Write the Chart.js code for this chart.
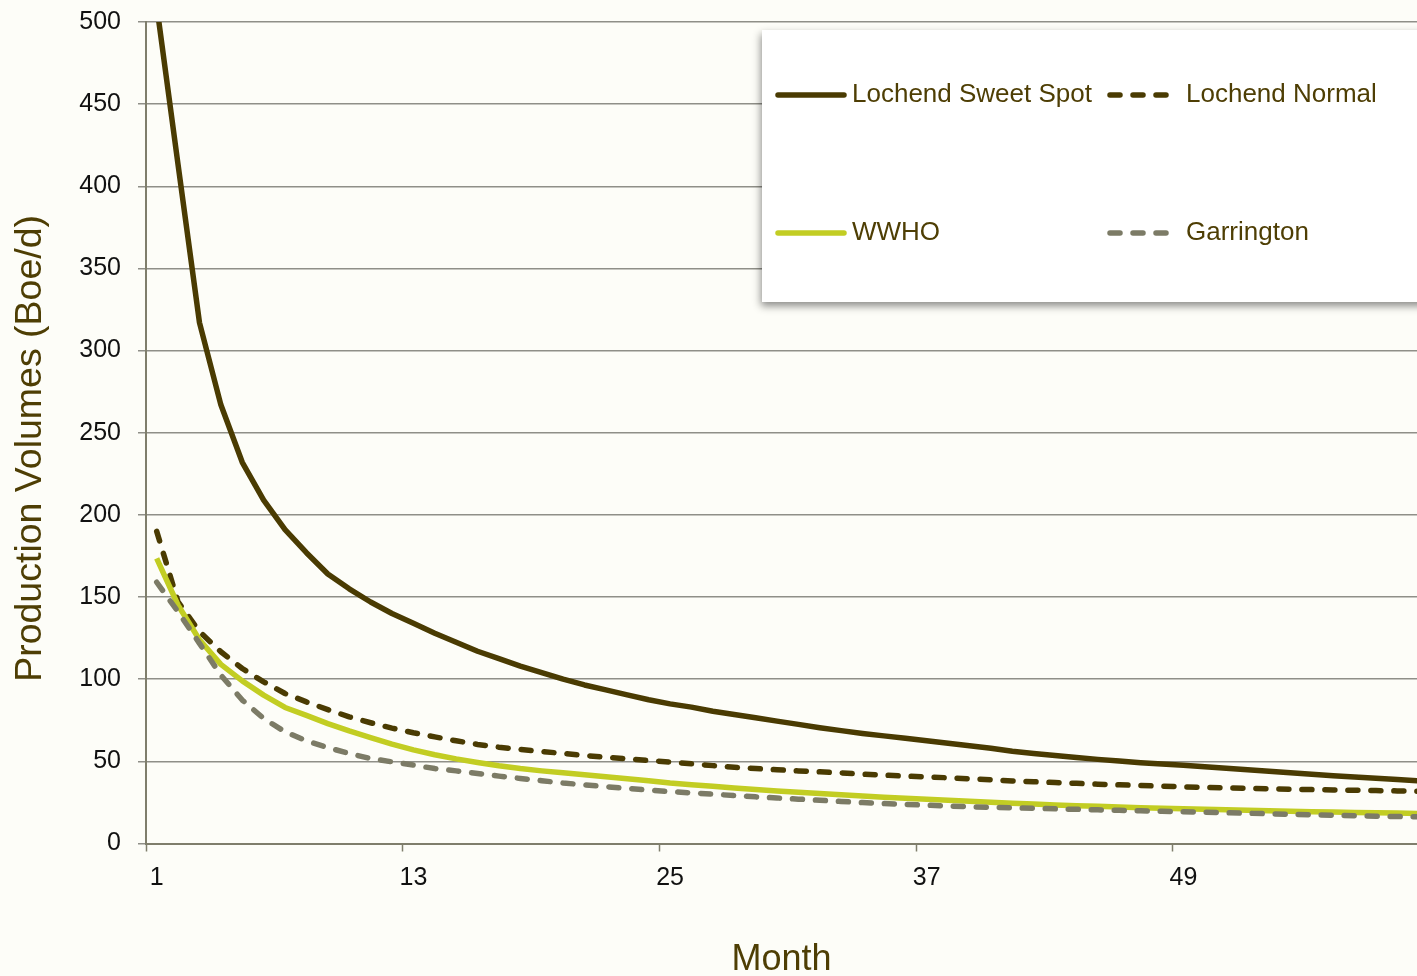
<!DOCTYPE html>
<html>
<head>
<meta charset="utf-8">
<title>Production decline</title>
<script src="https://cdn.jsdelivr.net/npm/chart.js@4.4.1/dist/chart.umd.min.js"></script>
<style>
  html, body { margin: 0; padding: 0; background: #fdfdf8; overflow: hidden; }
  #wrap { width: 1417px; height: 976px; }
</style>
</head>
<body>
<div id="wrap"><canvas id="declineChart" width="1417" height="976"></canvas></div>
<script>
// months on the x axis
const months = [1, 2, 3, 4, 5, 6, 7, 8, 9, 10, 11, 12, 13, 14, 15, 16, 17, 18, 19, 20,
  21, 22, 23, 24, 25, 26, 27, 28, 29, 30, 31, 32, 33, 34, 35, 36, 37, 38, 39, 40,
  41, 42, 43, 44, 45, 46, 47, 48, 49, 50, 51, 52, 53, 54, 55, 56, 57, 58, 59, 60];
const monthTickLabels = [1, 13, 25, 37, 49];

// production volumes (Boe/d)
const lochendSweetSpot = [510, 413, 317, 267, 232, 209, 191, 177, 164, 155,
  147, 140, 134, 128, 122.5, 117, 112.5, 108, 104, 100,
  96.5, 93.5, 90.5, 87.5, 85, 83, 80.5, 78.5, 76.5, 74.5,
  72.5, 70.5, 68.7, 67, 65.5, 64, 62.5, 61, 59.5, 58,
  56.2, 54.8, 53.5, 52.3, 51.2, 50.2, 49.2, 48.4, 47.6, 46.7,
  45.8, 44.9, 44, 43.1, 42.2, 41.3, 40.5, 39.7, 38.9, 38.2];
const lochendNormal = [190, 147, 129, 116.7, 106.5, 98.4, 91.3, 86.2, 81.5, 77.1,
  73.5, 70.2, 67.4, 64.9, 62.5, 60.3, 58.6, 57.2, 56, 54.8,
  53.6, 52.5, 51.5, 50.5, 49.6, 48.5, 47.4, 46.4, 45.6, 44.9,
  44.2, 43.6, 43, 42.2, 41.6, 41, 40.5, 40, 39.4, 38.8,
  38.1, 37.6, 37.1, 36.6, 36.1, 35.7, 35.3, 34.9, 34.5, 34.2,
  33.9, 33.6, 33.3, 33, 32.8, 32.6, 32.4, 32.2, 32, 31.8];
const wwho = [173.5, 145, 124, 109, 99, 90.3, 82.8, 78, 73, 68.5,
  64.5, 60.5, 57, 54, 51.5, 49.3, 47.3, 45.6, 44.2, 43,
  41.8, 40.6, 39.4, 38.2, 36.8, 35.8, 34.8, 33.8, 32.9, 32,
  31.2, 30.4, 29.6, 28.9, 28.2, 27.5, 26.9, 26.3, 25.7, 25.1,
  24.5, 24, 23.5, 23, 22.6, 22.2, 21.8, 21.4, 21.1, 20.8,
  20.5, 20.2, 19.9, 19.6, 19.3, 19.1, 18.9, 18.7, 18.5, 18.3];
const garrington = [159, 141, 121.8, 102.5, 87.3, 76.1, 68, 62.5, 58.4, 54.8,
  51.7, 49.7, 47.7, 45.6, 44.2, 42.6, 41, 39.6, 38.2, 36.8,
  35.7, 34.6, 33.5, 32.5, 31.6, 30.8, 30, 29.2, 28.4, 27.7,
  27, 26.3, 25.6, 24.9, 24.3, 23.8, 23.3, 22.8, 22.4, 22,
  21.7, 21.4, 21.1, 20.8, 20.5, 20.2, 19.9, 19.6, 19.3, 19,
  18.7, 18.4, 18.1, 17.8, 17.5, 17.2, 16.9, 16.6, 16.4, 16.2];

const AXIS_COLOR = '#7f7e6c';
const GRID_COLOR = '#8f8f88';
const TITLE_COLOR = '#4e3e04';
const TICK_COLOR = '#111111';

Chart.defaults.font.family = '"Liberation Sans", Arial, sans-serif';

function toPoints(values) {
  return months.map((m, i) => ({ x: m, y: values[i] }));
}

// legend drawn as a white box with a shadow, 2 x 2 items
const legendBox = {
  id: 'legendBox',
  afterDatasetsDraw(chart) {
    const ctx = chart.ctx;
    ctx.save();
    ctx.shadowColor = 'rgba(0, 0, 0, 0.45)';
    ctx.shadowBlur = 8;
    ctx.shadowOffsetX = -1;
    ctx.shadowOffsetY = 4;
    ctx.fillStyle = '#ffffff';
    ctx.fillRect(762, 30, 700, 272);
    ctx.restore();

    const cols = [[778, 844, 852], [1110, 1168, 1186]];
    const rows = [95, 233];
    chart.data.datasets.forEach((ds, i) => {
      const [x0, x1, tx] = cols[i % 2];
      const y = rows[Math.floor(i / 2)];
      ctx.save();
      ctx.strokeStyle = ds.borderColor;
      ctx.lineWidth = ds.borderWidth;
      ctx.lineCap = 'round';
      ctx.setLineDash(ds.borderDash || []);
      ctx.beginPath();
      ctx.moveTo(x0, y);
      ctx.lineTo(x1, y);
      ctx.stroke();
      ctx.restore();
      ctx.fillStyle = TITLE_COLOR;
      ctx.font = '26px "Liberation Sans", Arial, sans-serif';
      ctx.textBaseline = 'middle';
      ctx.textAlign = 'left';
      ctx.fillText(ds.label, tx, y);
    });
  }
};

const data = {
  datasets: [
    {
      label: 'Lochend Sweet Spot',
      data: toPoints(lochendSweetSpot),
      borderColor: '#4a3b02',
      borderWidth: 5.5,
      order: 3
    },
    {
      label: 'Lochend Normal',
      data: toPoints(lochendNormal),
      borderColor: '#4a3b02',
      borderWidth: 5.5,
      borderDash: [10, 13],
      borderCapStyle: 'round',
      order: 2
    },
    {
      label: 'WWHO',
      data: toPoints(wwho),
      borderColor: '#c2cd23',
      borderWidth: 5.5,
      order: 1
    },
    {
      label: 'Garrington',
      data: toPoints(garrington),
      borderColor: '#7c7b66',
      borderWidth: 5.5,
      borderDash: [10, 13],
      borderCapStyle: 'round',
      order: 0
    }
  ]
};

const config = {
  type: 'line',
  data: data,
  options: {
    responsive: false,
    animation: false,
    layout: { padding: { top: 22, right: 0, bottom: 0, left: 0 } },
    elements: {
      point: { radius: 0 },
      line: { tension: 0, borderJoinStyle: 'round' }
    },
    plugins: {
      legend: { display: false },
      title: { display: false },
      tooltip: { enabled: false }
    },
    scales: {
      x: {
        type: 'linear',
        min: 0.5,
        max: 59.92,
        afterBuildTicks: (scale) => {
          // tick marks sit between months, labels on the month itself
          const ticks = [];
          monthTickLabels.forEach(m => { ticks.push({ value: m - 0.5 }); ticks.push({ value: m }); });
          scale.ticks = ticks;
        },
        ticks: {
          autoSkip: false,
          maxRotation: 0,
          padding: 12,
          color: TICK_COLOR,
          font: { size: 25 },
          callback: (v) => Number.isInteger(v) ? String(v) : ''
        },
        grid: {
          drawOnChartArea: false,
          tickLength: 8,
          tickWidth: 1.5,
          tickColor: (c) => (c.tick && !Number.isInteger(c.tick.value)) ? AXIS_COLOR : 'rgba(0,0,0,0)'
        },
        border: { color: AXIS_COLOR, width: 2 },
        title: {
          display: true,
          text: 'Month',
          color: TITLE_COLOR,
          font: { size: 36, lineHeight: 1 },
          padding: { top: 0, bottom: -2 }
        },
        afterFit: (scale) => { scale.height = 132.5; }
      },
      y: {
        min: 0,
        max: 500,
        ticks: {
          stepSize: 50,
          padding: 17,
          color: TICK_COLOR,
          font: { size: 25, lineHeight: 0.4 }
        },
        grid: {
          color: GRID_COLOR,
          lineWidth: 1.5,
          tickLength: 8,
          tickColor: GRID_COLOR
        },
        border: { color: AXIS_COLOR, width: 2 },
        title: {
          display: true,
          text: 'Production Volumes (Boe/d)   ',
          color: TITLE_COLOR,
          font: { size: 37.5 },
          padding: { top: 8, bottom: 0 }
        },
        afterFit: (scale) => { scale.width = 146; }
      }
    }
  },
  plugins: [legendBox]
};

const chartCanvas = document.getElementById('declineChart').getContext('2d');
new Chart(chartCanvas, config);
</script>
</body>
</html>
